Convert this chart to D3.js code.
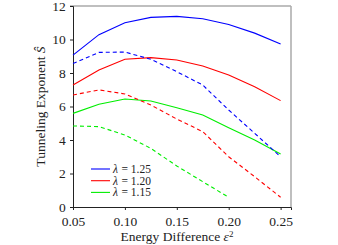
<!DOCTYPE html>
<html>
<head>
<meta charset="utf-8">
<script src="https://cdn.jsdelivr.net/npm/d3@7"></script>
<style>
  body { margin: 0; background: #fff; }
  svg text { font-family: "Liberation Serif", "Times New Roman", serif; }
</style>
</head>
<body>
<div id="container-chart"></div>
<script>
// energy difference values where each curve was sampled
const eps2 = [0.05, 0.075, 0.1, 0.125, 0.15, 0.175, 0.2, 0.225, 0.25];

const lambdas = ["1.25", "1.20", "1.15"];
const colors = ["#0000ff", "#ff0000", "#00ee00"];

// solid curves
const solid125 = [9.07, 10.29, 11.0, 11.32, 11.38, 11.24, 10.9, 10.38, 9.73];
const solid120 = [7.28, 8.18, 8.82, 8.92, 8.78, 8.42, 7.88, 7.18, 6.35];
const solid115 = [5.59, 6.13, 6.45, 6.33, 5.93, 5.49, 4.73, 4.0, 3.16];

// dashed curves
const dashed125 = [8.57, 9.23, 9.25, 8.82, 8.08, 7.28, 5.79, 4.4, 3.0];
const dashed120 = [6.69, 6.99, 6.75, 6.09, 5.25, 4.5, 3.0, 1.81, 0.58];
const dashed115 = [4.84, 4.8, 4.3, 3.5, 2.45, 1.51, 0.58];

const xTicks = [0.05, 0.1, 0.15, 0.2, 0.25];
const yTicks = [0, 2, 4, 6, 8, 10, 12];

const margin = {top: 6, right: 47, bottom: 38, left: 73};
const width = 338 - margin.left - margin.right;
const height = 245 - margin.top - margin.bottom;

const svg = d3.select("#container-chart")
  .append("svg")
  .attr("width", 338)
  .attr("height", 245)
  .append("g")
  .attr("transform", "translate(" + margin.left + "," + margin.top + ")");

const x = d3.scaleLinear().domain([0.05, 0.26]).range([0, width]);
const y = d3.scaleLinear().domain([0, 12]).range([height, 0]);

// gray frame on top and right
svg.append("line")
  .attr("x1", -3).attr("x2", width).attr("y1", 0).attr("y2", 0)
  .attr("stroke", "#aaa").attr("stroke-width", 1.5);
svg.append("line")
  .attr("x1", width).attr("x2", width).attr("y1", 0).attr("y2", height)
  .attr("stroke", "#aaa").attr("stroke-width", 1.5);

const xAxis = svg.append("g")
  .attr("transform", "translate(0," + height + ")")
  .call(d3.axisBottom(x).tickValues(xTicks).tickFormat(d3.format(".2f")).tickSizeOuter(0).tickSize(3));
const yAxis = svg.append("g")
  .call(d3.axisLeft(y).tickValues(yTicks).tickSizeOuter(0).tickSize(3));

[xAxis, yAxis].forEach(a => {
  a.attr("font-family", null);
  a.select(".domain").attr("stroke", "#222");
  a.selectAll(".tick line").attr("stroke", "#222");
  a.selectAll(".tick text")
    .attr("font-size", 13.5)
    .attr("fill", "#222");
});
xAxis.selectAll(".tick text").attr("dy", "0.95em");
yAxis.selectAll(".tick text").attr("dx", "-0.1em");

const line = d3.line()
  .x((d, i) => x(eps2[i]))
  .y(d => y(d));

const solids = [solid125, solid120, solid115];
const dashes = [dashed125, dashed120, dashed115];

solids.forEach((s, k) => {
  svg.append("path")
    .datum(s)
    .attr("fill", "none")
    .attr("stroke", colors[k])
    .attr("stroke-width", 1.1)
    .attr("d", line);
});
dashes.forEach((s, k) => {
  svg.append("path")
    .datum(s)
    .attr("fill", "none")
    .attr("stroke", colors[k])
    .attr("stroke-width", 1.1)
    .attr("stroke-dasharray", "4,3")
    .attr("d", line);
});

// legend
const legend = svg.append("g").attr("transform", "translate(18,163)");
lambdas.forEach((l, k) => {
  const row = legend.append("g").attr("transform", "translate(0," + (k * 11.7) + ")");
  row.append("line")
    .attr("x1", 0).attr("x2", 19)
    .attr("stroke", colors[k]).attr("stroke-width", 1.1);
  row.append("text")
    .attr("x", 22).attr("y", 0).attr("dy", "0.35em")
    .attr("font-size", 11.5).attr("font-style", "italic").attr("fill", "#222")
    .text("λ");
  row.append("text")
    .attr("x", 30.5).attr("y", 0).attr("dy", "0.35em")
    .attr("font-size", 11.5).attr("fill", "#222")
    .text("= " + l);
});

// axis titles
const xt = svg.append("text")
  .attr("x", width / 2 - 5).attr("y", height + 34)
  .attr("text-anchor", "middle")
  .attr("font-size", 13.5).attr("fill", "#222");
xt.append("tspan").text("Energy Difference ");
xt.append("tspan").attr("font-style", "italic").text("ε");
xt.append("tspan").attr("font-size", 9).attr("dy", "-0.5em").text("2");

const yt = svg.append("text")
  .attr("transform", "translate(-28," + (height / 2) + ") rotate(-90)")
  .attr("text-anchor", "middle")
  .attr("font-size", 13.5).attr("fill", "#222");
yt.append("tspan").text("Tunneling Exponent ");
yt.append("tspan").attr("font-style", "italic").text("Ŝ");
</script>
</body>
</html>
